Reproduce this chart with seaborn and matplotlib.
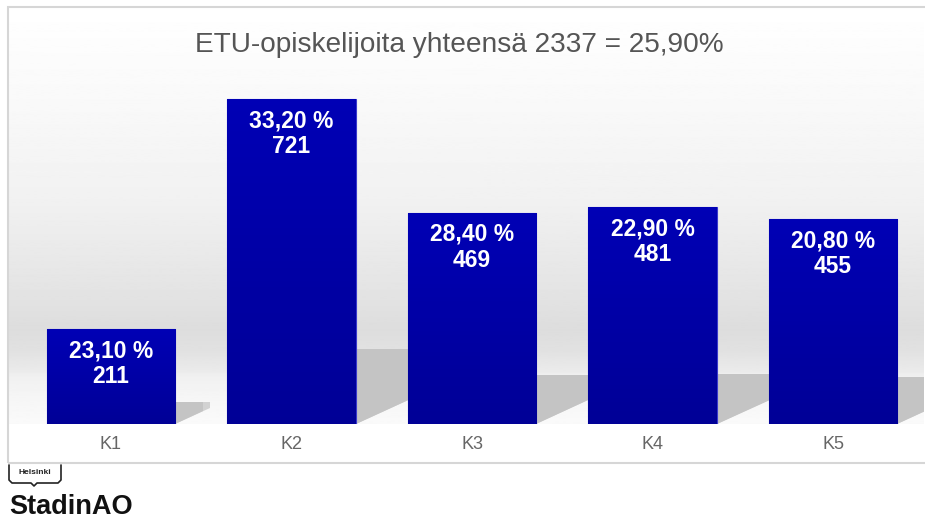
import numpy as np
import pandas as pd
import matplotlib.pyplot as plt
import seaborn as sns
from matplotlib.patches import Rectangle, Polygon
from matplotlib.lines import Line2D

categories = ['K1', 'K2', 'K3', 'K4', 'K5']
counts = [211, 721, 469, 481, 455]
shares = ['23,10 %', '33,20 %', '28,40 %', '22,90 %', '20,80 %']
title = 'ETU-opiskelijoita yhteensä 2337 = 25,90%'

df = pd.DataFrame({'kurssi': categories, 'lkm': counts, 'osuus': shares})

sns.set_style('white')
plt.rcParams['font.family'] = ['Liberation Sans', 'DejaVu Sans']

W, H = 925, 520
fig = plt.figure(figsize=(W / 100, H / 100), dpi=100)


def fpos(x, y):
    # pixel position -> figure fraction
    return x / W, 1 - y / H


ax = fig.add_axes([9 / W, (H - 424) / H, 915 / W, 417 / H])

# background gradient (white top, grey band, lighter floor)
stops_y = [7, 100, 200, 290, 330, 350, 372, 376, 400, 424]
stops_v = [255, 249, 241, 228, 221, 225, 235, 240, 246, 250]
yy = np.linspace(7, 424, 400)
grad = np.interp(yy, stops_y, stops_v).reshape(-1, 1)
ax.imshow(grad, cmap='gray', vmin=0, vmax=255, aspect='auto',
          extent=(0, 1, 0, 1), transform=ax.transAxes, zorder=0)

sns.barplot(data=df, x='kurssi', y='lkm', color='#0000AE', width=0.71,
            saturation=1, edgecolor='#3a3acc', linewidth=0.8, ax=ax, zorder=3)

xlim = (-0.565, 4.504)
ylim = (0, 925)
px_per_y = 417 / (ylim[1] - ylim[0])
px_per_x = 915 / (xlim[1] - xlim[0])

# floor shadows to the right of each bar (two layers for a softer look)
for i, v in enumerate(df['lkm']):
    right = i + 0.355
    ext = 0.37 * v * px_per_y / px_per_x
    for k, col in [(1.0, '#d2d2d2'), (0.8, '#c4c4c4')]:
        shadow = Polygon([(right, 0), (right, 0.23 * v),
                          (right + ext * k, 0.23 * v),
                          (right + ext * k, 0.17 * v * k)], closed=True,
                         facecolor=col, edgecolor='none', zorder=1)
        ax.add_patch(shadow)

# slight vertical gradient on bars
bar_grad = np.zeros((50, 1, 3))
bar_grad[:, 0, 2] = np.linspace(0.71, 0.59, 50)
for p in ax.patches:
    if not isinstance(p, Rectangle):
        continue
    x0, y0 = p.get_x(), p.get_y()
    x1, y1 = x0 + p.get_width(), y0 + p.get_height()
    if p.get_height() <= 0 or p.get_width() > 1:
        continue
    im = ax.imshow(bar_grad, aspect='auto', extent=(x0, x1, y0, y1), zorder=3.2)
    im.set_clip_path(p)

for i, (v, s) in enumerate(zip(df['lkm'], df['osuus'])):
    ax.annotate(s, xy=(i, v), xytext=(0, -15.6), textcoords='offset points',
                ha='center', va='center', color='white', fontsize=16.5,
                fontweight='bold', zorder=5)
    ax.annotate(str(v), xy=(i, v), xytext=(0, -34.4), textcoords='offset points',
                ha='center', va='center', color='white', fontsize=16.5,
                fontweight='bold', zorder=5)

ax.set_xlim(*xlim)
ax.set_ylim(*ylim)
ax.set_yticks([])
ax.set_xlabel('')
ax.set_ylabel('')
ax.tick_params(axis='x', length=0, pad=8.5, labelsize=13, labelcolor='#666666')
for sp in ax.spines.values():
    sp.set_visible(False)

fig.text(*fpos(459, 45), title, ha='center', va='center', fontsize=20.2,
         color='#555555')

# chart frame (right edge runs off the picture)
fx, fy = fpos(8, 463)
fig.add_artist(Rectangle((fx, fy), 940 / W, 456 / H, transform=fig.transFigure,
                         fill=False, edgecolor='#d6d6d6', lw=1.5))

# Helsinki / StadinAO logo
logo = [(9, 465), (9, 480), (12, 483), (31, 483), (34, 486), (37, 483),
        (58, 483), (61, 480), (61, 465)]
lx, ly = zip(*[fpos(x, y) for x, y in logo])
fig.add_artist(Line2D(lx, ly, transform=fig.transFigure, color='#222222', lw=1.2))
fig.text(*fpos(35, 473), 'Helsinki', ha='center', va='center', fontsize=6,
         fontweight='bold', color='#222222')
fig.text(*fpos(9, 514), 'StadinAO', ha='left', va='baseline', fontsize=19.5,
         fontweight='bold', color='#111111')

fig.savefig('out.png', dpi=100)
